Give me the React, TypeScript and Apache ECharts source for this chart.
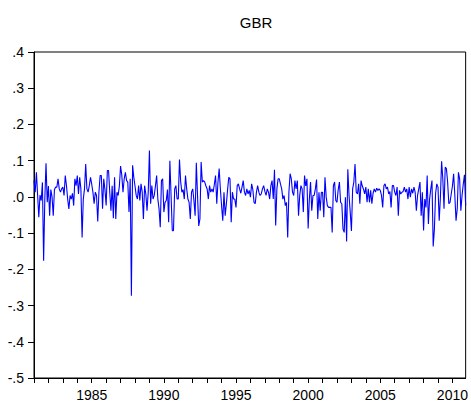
import React, { useEffect, useRef } from "react";
import * as echarts from "echarts";

// Monthly GBR returns, January 1981 through December 2010, in five-year blocks.
const START_YEAR = 1981;

const r1981_1985 = [
  0.045, 0.013, 0.068, 0.005, -0.056, 0.005, -0.01, 0.04, -0.176, -0.005, 0.093, -0.015,
  0.03, -0.052, 0.02, 0.0, -0.052, 0.02, 0.027, 0.027, 0.05, 0.022, 0.013, 0.022,
  0.027, 0.004, 0.059, 0.031, -0.006, -0.033, 0.004, -0.006, 0.01, -0.024, 0.05, 0.031,
  0.059, 0.008, 0.054, 0.022, -0.112, -0.006, 0.022, 0.091, 0.022, 0.013, 0.031, 0.054,
  0.035, 0.013, -0.019, 0.013, 0.004, -0.068, 0.013, 0.059, 0.059, -0.033, 0.05, 0.02,
];
const r1986_1990 = [
  -0.024, 0.073, 0.073, 0.013, -0.038, 0.031, -0.059, 0.054, -0.061, 0.013, 0.004, 0.03,
  0.085, 0.06, 0.013, 0.05, 0.068, 0.045, 0.041, -0.042, 0.05, -0.273, 0.087, 0.054,
  0.03, 0.004, -0.006, 0.031, -0.01, 0.036, 0.013, -0.061, 0.031, 0.008, -0.038, 0.013,
  0.128, -0.019, 0.031, -0.006, 0.004, 0.03, 0.059, -0.006, -0.033, -0.084, 0.045, 0.05,
  -0.042, -0.015, -0.01, 0.02, -0.07, 0.1, 0.004, -0.093, -0.093, 0.022, 0.031, -0.006,
];
const r1991_1995 = [
  -0.006, 0.103, 0.041, 0.013, 0.02, -0.006, 0.059, 0.022, -0.006, -0.015, -0.061, 0.013,
  0.022, -0.01, -0.052, 0.094, 0.004, -0.08, -0.061, 0.096, 0.041, 0.045, 0.041, 0.03,
  0.022, -0.006, 0.031, 0.013, 0.022, 0.013, 0.035, 0.059, -0.019, 0.041, 0.078, 0.022,
  -0.024, -0.066, 0.013, -0.052, -0.019, 0.02, 0.054, 0.05, -0.07, 0.013, -0.006, -0.006,
  -0.029, 0.031, 0.036, 0.022, 0.01, 0.027, 0.045, 0.013, 0.004, 0.022, 0.008, 0.018,
];
const r1996_2000 = [
  -0.001, 0.036, 0.02, -0.015, -0.019, 0.013, 0.031, 0.013, 0.004, 0.008, 0.022, 0.031,
  0.015, 0.004, 0.022, 0.013, -0.006, 0.031, 0.045, -0.006, 0.075, -0.079, 0.022, 0.05,
  0.05, 0.035, 0.022, -0.006, 0.004, -0.024, -0.015, -0.112, 0.013, 0.064, 0.05, 0.013,
  0.004, 0.045, 0.022, 0.045, -0.052, 0.004, 0.031, 0.022, -0.042, 0.059, 0.03, 0.05,
  -0.087, -0.006, 0.041, -0.038, 0.004, 0.004, 0.022, 0.048, -0.061, 0.013, -0.038, 0.013,
];
const r2001_2005 = [
  0.013, -0.056, 0.054, 0.0, -0.024, -0.029, -0.029, -0.029, -0.098, 0.031, 0.041, -0.01,
  -0.015, 0.02, 0.041, -0.015, -0.019, -0.089, -0.098, -0.001, -0.123, 0.076, 0.004, -0.042,
  -0.094, 0.022, 0.041, 0.091, 0.013, 0.008, 0.036, -0.019, 0.045, 0.03, 0.022, 0.008,
  0.027, -0.015, 0.022, -0.015, 0.018, -0.019, 0.01, 0.022, 0.013, 0.024, 0.018, 0.022,
  0.018, 0.004, -0.029, 0.031, 0.036, 0.022, 0.027, 0.008, 0.015, -0.029, 0.031, 0.031,
];
const r2006_2010 = [
  0.013, 0.004, 0.027, -0.052, 0.018, 0.008, 0.013, 0.015, 0.027, 0.013, 0.022, -0.006,
  0.027, -0.001, 0.022, 0.01, 0.027, 0.013, -0.038, 0.004, 0.022, 0.041, -0.052, 0.013,
  -0.093, -0.006, -0.029, 0.059, -0.075, -0.006, 0.022, 0.045, -0.137, -0.089, 0.01, 0.036,
  0.027, -0.066, -0.001, 0.098, 0.05, -0.033, 0.082, 0.078, 0.041, -0.019, -0.015, 0.008,
  0.03, 0.064, 0.004, -0.066, -0.033, 0.068, 0.05, -0.038, 0.004, 0.035, 0.061, -0.024,
];

const TICK_YEARS = [
  1981, 1982, 1983, 1984, 1985, 1986, 1987, 1988, 1989, 1990, 1991, 1992, 1993, 1994, 1995,
  1996, 1997, 1998, 1999, 2000, 2001, 2002, 2003, 2004, 2005, 2006, 2007, 2008, 2009, 2010,
];
const LABEL_YEARS = [1985, 1990, 1995, 2000, 2005, 2010];

const returns = [
  ...r1981_1985,
  ...r1986_1990,
  ...r1991_1995,
  ...r1996_2000,
  ...r2001_2005,
  ...r2006_2010,
];

const FONT = "Liberation Sans, Arial, sans-serif";

// EViews-style numbers: ".4", ".0", "-.1"
function formatReturn(v: number): string {
  const s = (Math.round(v * 10) / 10).toFixed(1);
  if (s === "-0.0" || s === "0.0") return ".0";
  return s.replace(/^(-?)0\./, "$1.");
}

export default function App() {
  const ref = useRef<HTMLDivElement>(null);

  useEffect(() => {
    if (!ref.current) return;
    const chart = echarts.init(ref.current, undefined, { renderer: "svg" });
    const lastX = START_YEAR + (returns.length - 1) / 12;
    chart.setOption({
      animation: false,
      backgroundColor: "#ffffff",
      title: {
        text: "GBR",
        left: 251,
        top: 10,
        textAlign: "center",
        textStyle: {
          fontFamily: FONT,
          fontSize: 15,
          fontWeight: "normal",
          color: "#000000",
        },
      },
      grid: {
        left: 34,
        right: 3,
        top: 52,
        bottom: 29,
        show: true,
        borderColor: "#000000",
        borderWidth: 1,
        backgroundColor: "transparent",
      },
      xAxis: {
        type: "value",
        min: START_YEAR,
        max: lastX,
        axisLine: { show: true, onZero: false, lineStyle: { color: "#000000", width: 1 } },
        axisTick: {
          show: true,
          inside: false,
          length: 5,
          customValues: TICK_YEARS,
          lineStyle: { color: "#000000" },
        },
        axisLabel: {
          customValues: LABEL_YEARS,
          formatter: (v: number) => String(Math.round(v)),
          fontFamily: FONT,
          fontSize: 14,
          color: "#000000",
          margin: 10,
        },
        splitLine: { show: false },
      },
      yAxis: {
        type: "value",
        min: -0.5,
        max: 0.4,
        interval: 0.1,
        axisLine: { show: true, onZero: false, lineStyle: { color: "#000000", width: 1 } },
        axisTick: { show: true, inside: false, length: 6, lineStyle: { color: "#000000" } },
        axisLabel: {
          formatter: formatReturn,
          fontFamily: FONT,
          fontSize: 14,
          color: "#000000",
          margin: 10,
        },
        splitLine: { show: false },
      },
      series: [
        {
          type: "line",
          data: returns.map((v, i) => [START_YEAR + i / 12, v]),
          showSymbol: false,
          symbol: "none",
          lineStyle: { color: "#0000ff", width: 1.1 },
          silent: true,
        },
      ],
    });
    return () => chart.dispose();
  }, []);

  return (
    <div
      ref={ref}
      style={{ position: "fixed", left: 0, top: 0, width: 471, height: 407, background: "#fff" }}
    />
  );
}
